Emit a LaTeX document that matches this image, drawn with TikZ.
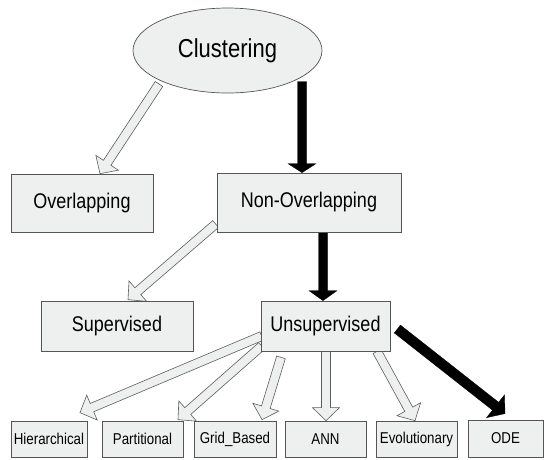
\documentclass[tikz,border=0pt]{standalone}
\usepackage{fontspec}
\setmainfont{Liberation Sans}
\usetikzlibrary{calc,shapes.geometric,backgrounds}
\definecolor{boxfill}{HTML}{EEEFEF}
\definecolor{boxline}{HTML}{555555}
\definecolor{arrline}{HTML}{5E5E5E}
\tikzset{
  box/.style={draw=boxline,fill=boxfill,line width=0.7pt,inner sep=0pt},
  bigtxt/.style={font=\fontsize{18}{20}\selectfont},
  smalltxt/.style={font=\fontsize{13.3}{15}\selectfont},
  hollowarrow/.style={fill=boxfill,draw=arrline,line width=0.6pt,line join=miter},
  solidarrow/.style={fill=black,draw=black,line width=0.3pt,line join=miter},
}
\newcommand\st[1]{\scalebox{1}[1.18]{#1}}
% #1 style, #2 start, #3 tip, #4 shaft half width, #5 head half width, #6 head length
\newcommand\fatarrow[6]{%
  \coordinate (fatB) at ($(#3)!#6!(#2)$);
  \draw[#1] ($(#2)!#4!90:(#3)$) -- ($(fatB)!#4!90:(#3)$) -- ($(fatB)!#5!90:(#3)$)
    -- (#3) -- ($(fatB)!#5!-90:(#3)$) -- ($(fatB)!#4!-90:(#3)$) -- ($(#2)!#4!-90:(#3)$) -- cycle;
}
\begin{document}
\begin{tikzpicture}[x=1pt,y=-1pt]
\useasboundingbox (0,0) rectangle (546,459);
% nodes
\node[box,ellipse,minimum width=189pt,minimum height=85pt,font=\fontsize{22}{24}\selectfont] (clu) at (227.5,50.5) {\st{Clustering}};
\node[box,bigtxt,minimum width=142pt,minimum height=58pt] (ovl) at (82,203) {\st{Overlapping}};
\node[box,bigtxt,minimum width=184pt,minimum height=59pt] (non) at (309,202.5) {\st{Non-Overlapping}};
\node[box,bigtxt,minimum width=152pt,minimum height=50pt] (sup) at (117,326) {\st{Supervised}};
\node[box,bigtxt,minimum width=129pt,minimum height=50pt] (uns) at (325.5,326) {\st{Unsupervised}};
\node[box,smalltxt,minimum width=76pt,minimum height=36pt] (hie) at (49,439) {\st{Hierarchical}};
\node[box,smalltxt,minimum width=81pt,minimum height=36pt] (par) at (142.5,439) {\st{Partitional}};
\node[box,smalltxt,minimum width=82pt,minimum height=36pt] (gri) at (235,439) {\st{Grid\_Based}};
\node[box,smalltxt,minimum width=81pt,minimum height=36pt] (ann) at (325.5,439) {\st{ANN}};
\node[box,smalltxt,minimum width=81pt,minimum height=36pt] (evo) at (416.5,439) {\st{Evolutionary}};
\node[box,smalltxt,minimum width=75pt,minimum height=37pt] (ode) at (505.5,438.5) {\st{ODE}};
% connector end points
\coordinate (s1) at ($(clu.center)+(-68.5,33.5)$);
\coordinate (t1) at ($(ovl.north)+(18,0)$);
\coordinate (s2) at ($(clu.center)+(74.5,31)$);
\coordinate (t2) at ($(non.north)+(-7,0)$);
\coordinate (s3) at ($(non.west)+(-1,21.5)$);
\coordinate (t3) at ($(sup.north)+(11,-1)$);
\coordinate (s4) at ($(non.south)+(14,0)$);
\coordinate (t4) at ($(uns.north)+(-2.5,0)$);
\coordinate (s5) at ($(uns.west)+(1,10)$);
\coordinate (t5) at ($(hie.north)+(31,-8)$);
\coordinate (s6) at ($(uns.west)+(1,20)$);
\coordinate (t6) at ($(par.north)+(35.5,-1)$);
\coordinate (s7) at ($(uns.south)+(-44.5,6)$);
\coordinate (t7) at ($(gri.north)+(27,-1)$);
\coordinate (s8) at ($(uns.south)+(0.5,0)$);
\coordinate (t8) at ($(ann.north)+(0.5,0)$);
\coordinate (s9) at ($(uns.south)+(51.5,0)$);
\coordinate (t9) at ($(evo.north)+(-1.5,0)$);
\coordinate (s10) at ($(uns.east)+(7,3)$);
\coordinate (t10) at ($(ode.north)+(-0.5,-6)$);
\begin{scope}[on background layer]
\fill[white] (0,0) rectangle (546,459);
\fatarrow{hollowarrow}{s1}{t1}{4.5pt}{13.5pt}{13pt}
\fatarrow{solidarrow}{s2}{t2}{4.5pt}{14pt}{9pt}
\fatarrow{hollowarrow}{s3}{t3}{4.5pt}{13.5pt}{13pt}
\fatarrow{solidarrow}{s4}{t4}{4.5pt}{14pt}{10pt}
\fatarrow{hollowarrow}{s5}{t5}{4.5pt}{13.5pt}{13pt}
\fatarrow{hollowarrow}{s6}{t6}{4.5pt}{13.5pt}{13pt}
\fatarrow{hollowarrow}{s7}{t7}{4.5pt}{13.5pt}{13pt}
\fatarrow{hollowarrow}{s8}{t8}{4.5pt}{13.5pt}{13pt}
\fatarrow{hollowarrow}{s9}{t9}{4.5pt}{13.5pt}{13pt}
\fatarrow{solidarrow}{s10}{t10}{5pt}{14.5pt}{12pt}
\end{scope}
\end{tikzpicture}
\end{document}
